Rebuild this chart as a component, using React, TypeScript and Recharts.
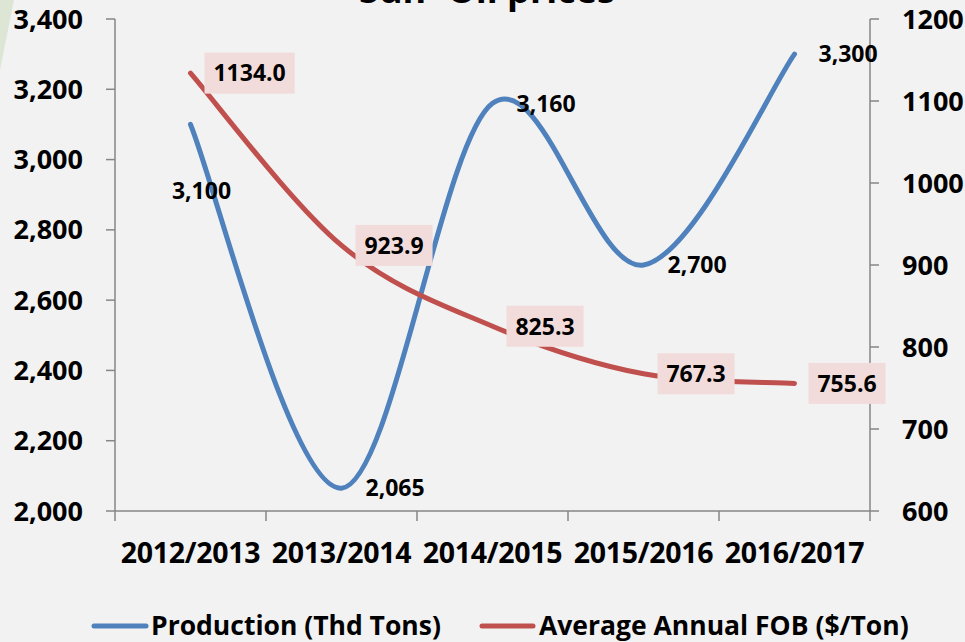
import React from 'react'
import { LineChart, Line, XAxis, YAxis, LabelList } from 'recharts'

const seasons = ['2012/2013', '2013/2014', '2014/2015', '2015/2016', '2016/2017']
const production = [3100, 2065, 3160, 2700, 3300]
const fobPrice = [1134.0, 923.9, 825.3, 767.3, 755.6]
const leftTicks = [2000, 2200, 2400, 2600, 2800, 3000, 3200, 3400]
const rightTicks = [600, 700, 800, 900, 1000, 1100, 1200]

const data = seasons.map((season, i) => ({
  season,
  production: production[i],
  fob: fobPrice[i],
}))

const BLUE = '#4f81bd'
const RED = '#c0504d'
const AXIS = '#868686'
const FONT = "'Open Sans', sans-serif"

const W = 965
const H = 642
const PLOT_LEFT = 115
const PLOT_RIGHT = 870

// Excel-style smoothing (uniform Catmull-Rom as cubic beziers)
const excelSmooth = (context: any) => {
  let pts: number[][] = []
  return {
    areaStart() {},
    areaEnd() {},
    lineStart() {
      pts = []
    },
    point(x: number, y: number) {
      pts.push([+x, +y])
    },
    lineEnd() {
      if (!pts.length) return
      context.moveTo(pts[0][0], pts[0][1])
      for (let i = 0; i < pts.length - 1; i++) {
        const p0 = pts[i - 1] || pts[i]
        const p1 = pts[i]
        const p2 = pts[i + 1]
        const p3 = pts[i + 2] || pts[i + 1]
        context.bezierCurveTo(
          p1[0] + (p2[0] - p0[0]) / 6,
          p1[1] + (p2[1] - p0[1]) / 6,
          p2[0] - (p3[0] - p1[0]) / 6,
          p2[1] - (p3[1] - p1[1]) / 6,
          p2[0],
          p2[1]
        )
      }
    },
  }
}

const fmtThousands = (v: number) => v.toLocaleString('en-US')

const textWidth = (s: string, size: number) =>
  s.split('').reduce((w, c) => w + (c === '.' || c === ',' ? 0.28 : 0.572), 0) * size

const ProductionLabel = (props: any) => {
  const { x, y, value, index } = props
  const txt = fmtThousands(value)
  if (index === 0) {
    return (
      <text x={x + 11} y={y + 66} dy="0.36em" textAnchor="middle" fontSize={23} fontWeight={700} fontFamily={FONT} fill="#000">
        {txt}
      </text>
    )
  }
  return (
    <text x={x + 24} y={y} dy="0.36em" fontSize={23} fontWeight={700} fontFamily={FONT} fill="#000">
      {txt}
    </text>
  )
}

const PriceLabel = (props: any) => {
  const { x, y, value } = props
  const txt = Number(value).toFixed(1)
  const w = textWidth(txt, 23) + 18
  return (
    <g>
      <rect x={x + 14} y={y - 20.5} width={w} height={41} fill="#f2dcdb" />
      <text x={x + 14 + w / 2} y={y} dy="0.36em" textAnchor="middle" fontSize={23} fontWeight={700} fontFamily={FONT} fill="#000">
        {txt}
      </text>
    </g>
  )
}

const SeasonTick = (props: any) => {
  const { x, y, payload, index } = props
  const half = (PLOT_RIGHT - PLOT_LEFT) / seasons.length / 2
  const axisY = y - 32
  return (
    <g>
      <line x1={x - half} y1={axisY} x2={x - half} y2={axisY + 10} stroke={AXIS} strokeWidth={1.5} />
      {index === seasons.length - 1 && (
        <line x1={x + half} y1={axisY} x2={x + half} y2={axisY + 10} stroke={AXIS} strokeWidth={1.5} />
      )}
      <text x={x} y={y} dy="0.71em" textAnchor="middle" fontSize={28.5} fontWeight={700} fontFamily={FONT} fill="#000" letterSpacing={-0.3}>
        {payload.value}
      </text>
    </g>
  )
}

const tickStyle = { fill: '#000', fontSize: 27, fontWeight: 700, fontFamily: FONT }

export default function App() {
  return (
    <div
      style={{
        position: 'fixed',
        top: 0,
        left: 0,
        width: W,
        height: H,
        background: '#f2f2f2',
        overflow: 'hidden',
      }}
    >
      <svg width={W} height={H} style={{ position: 'absolute', top: 0, left: 0 }}>
        <polygon points="0,0 14,0 0,70" fill="#dde6d5" />
      </svg>
      <div style={{ position: 'absolute', top: 0, left: 0 }}>
        <LineChart width={W} height={H} data={data} margin={{ top: 19, right: 0, bottom: 71, left: 0 }}>
          <XAxis
            dataKey="season"
            scale="band"
            interval={0}
            height={60}
            tickSize={10}
            tickMargin={22}
            tickLine={false}
            axisLine={{ stroke: AXIS, strokeWidth: 1.5 }}
            tick={<SeasonTick />}
          />
          <YAxis
            yAxisId="left"
            domain={[2000, 3400]}
            ticks={leftTicks}
            tickFormatter={fmtThousands}
            width={115}
            tickSize={9}
            tickMargin={23}
            axisLine={{ stroke: AXIS, strokeWidth: 1.5 }}
            tickLine={{ stroke: AXIS, strokeWidth: 1.5 }}
            tick={tickStyle}
          />
          <YAxis
            yAxisId="right"
            orientation="right"
            domain={[600, 1200]}
            ticks={rightTicks}
            width={95}
            tickSize={9}
            tickMargin={23}
            axisLine={{ stroke: AXIS, strokeWidth: 1.5 }}
            tickLine={{ stroke: AXIS, strokeWidth: 1.5 }}
            tick={{ ...tickStyle, textAnchor: 'start' }}
          />
          <Line
            yAxisId="left"
            dataKey="production"
            type={excelSmooth as any}
            stroke={BLUE}
            strokeWidth={5}
            strokeLinecap="round"
            dot={false}
            activeDot={false}
            isAnimationActive={false}
          >
            <LabelList dataKey="production" content={<ProductionLabel />} />
          </Line>
          <Line
            yAxisId="right"
            dataKey="fob"
            type={excelSmooth as any}
            stroke={RED}
            strokeWidth={5}
            strokeLinecap="round"
            dot={false}
            activeDot={false}
            isAnimationActive={false}
          >
            <LabelList dataKey="fob" content={<PriceLabel />} />
          </Line>
        </LineChart>
      </div>
      <svg width={W} height={H} style={{ position: 'absolute', top: 0, left: 0, pointerEvents: 'none' }}>
        <text x={487} y={3} textAnchor="middle" fontSize={36} fontWeight={700} fontFamily={FONT} fill="#000">
          Sun- Oil prices
        </text>
        <line x1={94} y1={626} x2={146} y2={626} stroke={BLUE} strokeWidth={5} strokeLinecap="round" />
        <text x={151} y={635} fontSize={26.5} fontWeight={700} fontFamily={FONT} fill="#000">
          Production (Thd Tons)
        </text>
        <line x1={482} y1={626} x2={533} y2={626} stroke={RED} strokeWidth={5} strokeLinecap="round" />
        <text x={539} y={635} fontSize={26.5} fontWeight={700} fontFamily={FONT} fill="#000">
          Average Annual FOB ($/Ton)
        </text>
      </svg>
    </div>
  )
}
